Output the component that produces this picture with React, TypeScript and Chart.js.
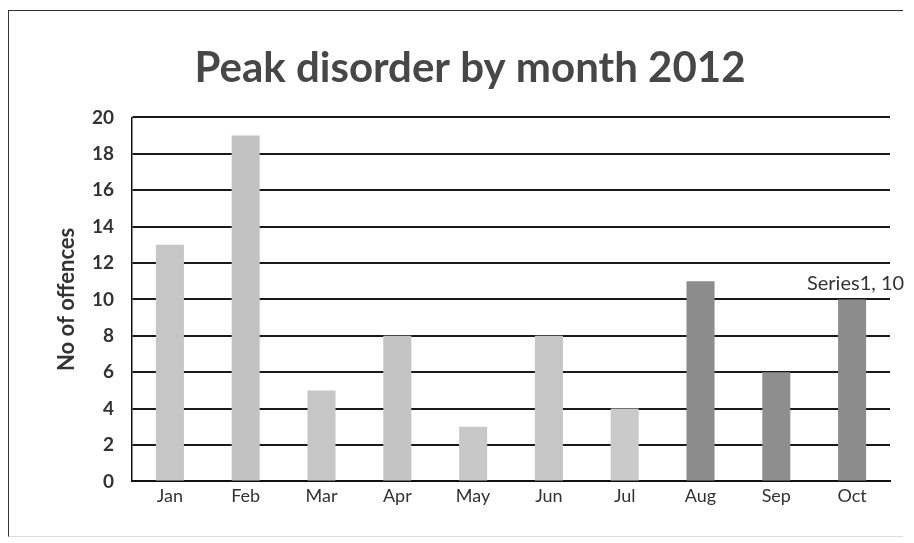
import React, { useEffect, useRef } from "react";
import { Chart, registerables } from "chart.js";

Chart.register(...registerables);

const months = ["Jan", "Feb", "Mar", "Apr", "May", "Jun", "Jul", "Aug", "Sep", "Oct"];
const offences = [13, 19, 5, 8, 3, 8, 4, 11, 6, 10];
const barColors = [
  "#c6c6c6", "#c2c2c2", "#c6c6c6", "#c4c4c4", "#c8c8c8",
  "#c6c6c6", "#cacaca", "#8c8c8c", "#8e8e8e", "#8c8c8c",
];
const titleText = "Peak disorder by month 2012";
const yAxisTitle = "No of offences";
const seriesName = "Series1";

const FONT = "Lato, 'Open Sans', 'DejaVu Sans', sans-serif";

const labelPlugin = {
  id: "oneLabel",
  afterDatasetsDraw(chart: any) {
    const meta = chart.getDatasetMeta(0);
    const idx = offences.length - 1;
    const el = meta.data[idx];
    if (!el) return;
    const ctx = chart.ctx;
    ctx.save();
    ctx.font = `20px ${FONT}`;
    ctx.fillStyle = "#333";
    ctx.textAlign = "right";
    ctx.textBaseline = "bottom";
    ctx.fillText(`${seriesName}, ${offences[idx]}`, el.x + 52, el.y - 6);
    ctx.restore();
  },
};

export default function App() {
  const ref = useRef<HTMLCanvasElement>(null);
  useEffect(() => {
    if (!ref.current) return;
    const chart = new Chart(ref.current, {
      type: "bar",
      data: {
        labels: months,
        datasets: [
          {
            label: seriesName,
            data: offences,
            backgroundColor: barColors,
            barPercentage: 0.37,
            categoryPercentage: 1,
          },
        ],
      },
      options: {
        animation: false,
        responsive: true,
        maintainAspectRatio: false,
        layout: { padding: { left: 50, right: 24, top: 43, bottom: 32 } },
        plugins: {
          legend: { display: false },
          tooltip: { enabled: false },
          title: {
            display: true,
            text: titleText,
            color: "#474747",
            font: { family: FONT, size: 42, weight: "bold" },
            padding: { top: 0, bottom: 24 },
          },
        },
        scales: {
          x: {
            grid: { display: false, drawTicks: false },
            border: { display: true, color: "#111", width: 2 },
            ticks: { color: "#333", font: { family: FONT, size: 18 }, padding: 4 },
          },
          y: {
            min: 0,
            max: 20,
            ticks: { stepSize: 2, color: "#333", font: { family: FONT, size: 19, weight: "bold" }, padding: 18 },
            grid: { color: "#1a1a1a", lineWidth: 2, drawTicks: false },
            border: { display: true, color: "#111", width: 1.5 },
            title: {
              display: true,
              text: yAxisTitle,
              color: "#333",
              font: { family: FONT, size: 22, weight: "bold" },
              padding: { bottom: 0 },
            },
            afterFit(scale: any) {
              scale.width = 82;
            },
          },
        },
      },
      plugins: [labelPlugin],
    });
    return () => chart.destroy();
  }, []);
  return (
    <div style={{ position: "fixed", left: 0, top: 0, width: 914, height: 543, background: "#fff" }}>
      <div style={{ position: "absolute", left: 8, top: 10, width: 894, height: 525, border: "1.5px solid #333", borderRight: "none", borderBottom: "1px solid #ddd" }} />
      <canvas ref={ref} />
    </div>
  );
}
